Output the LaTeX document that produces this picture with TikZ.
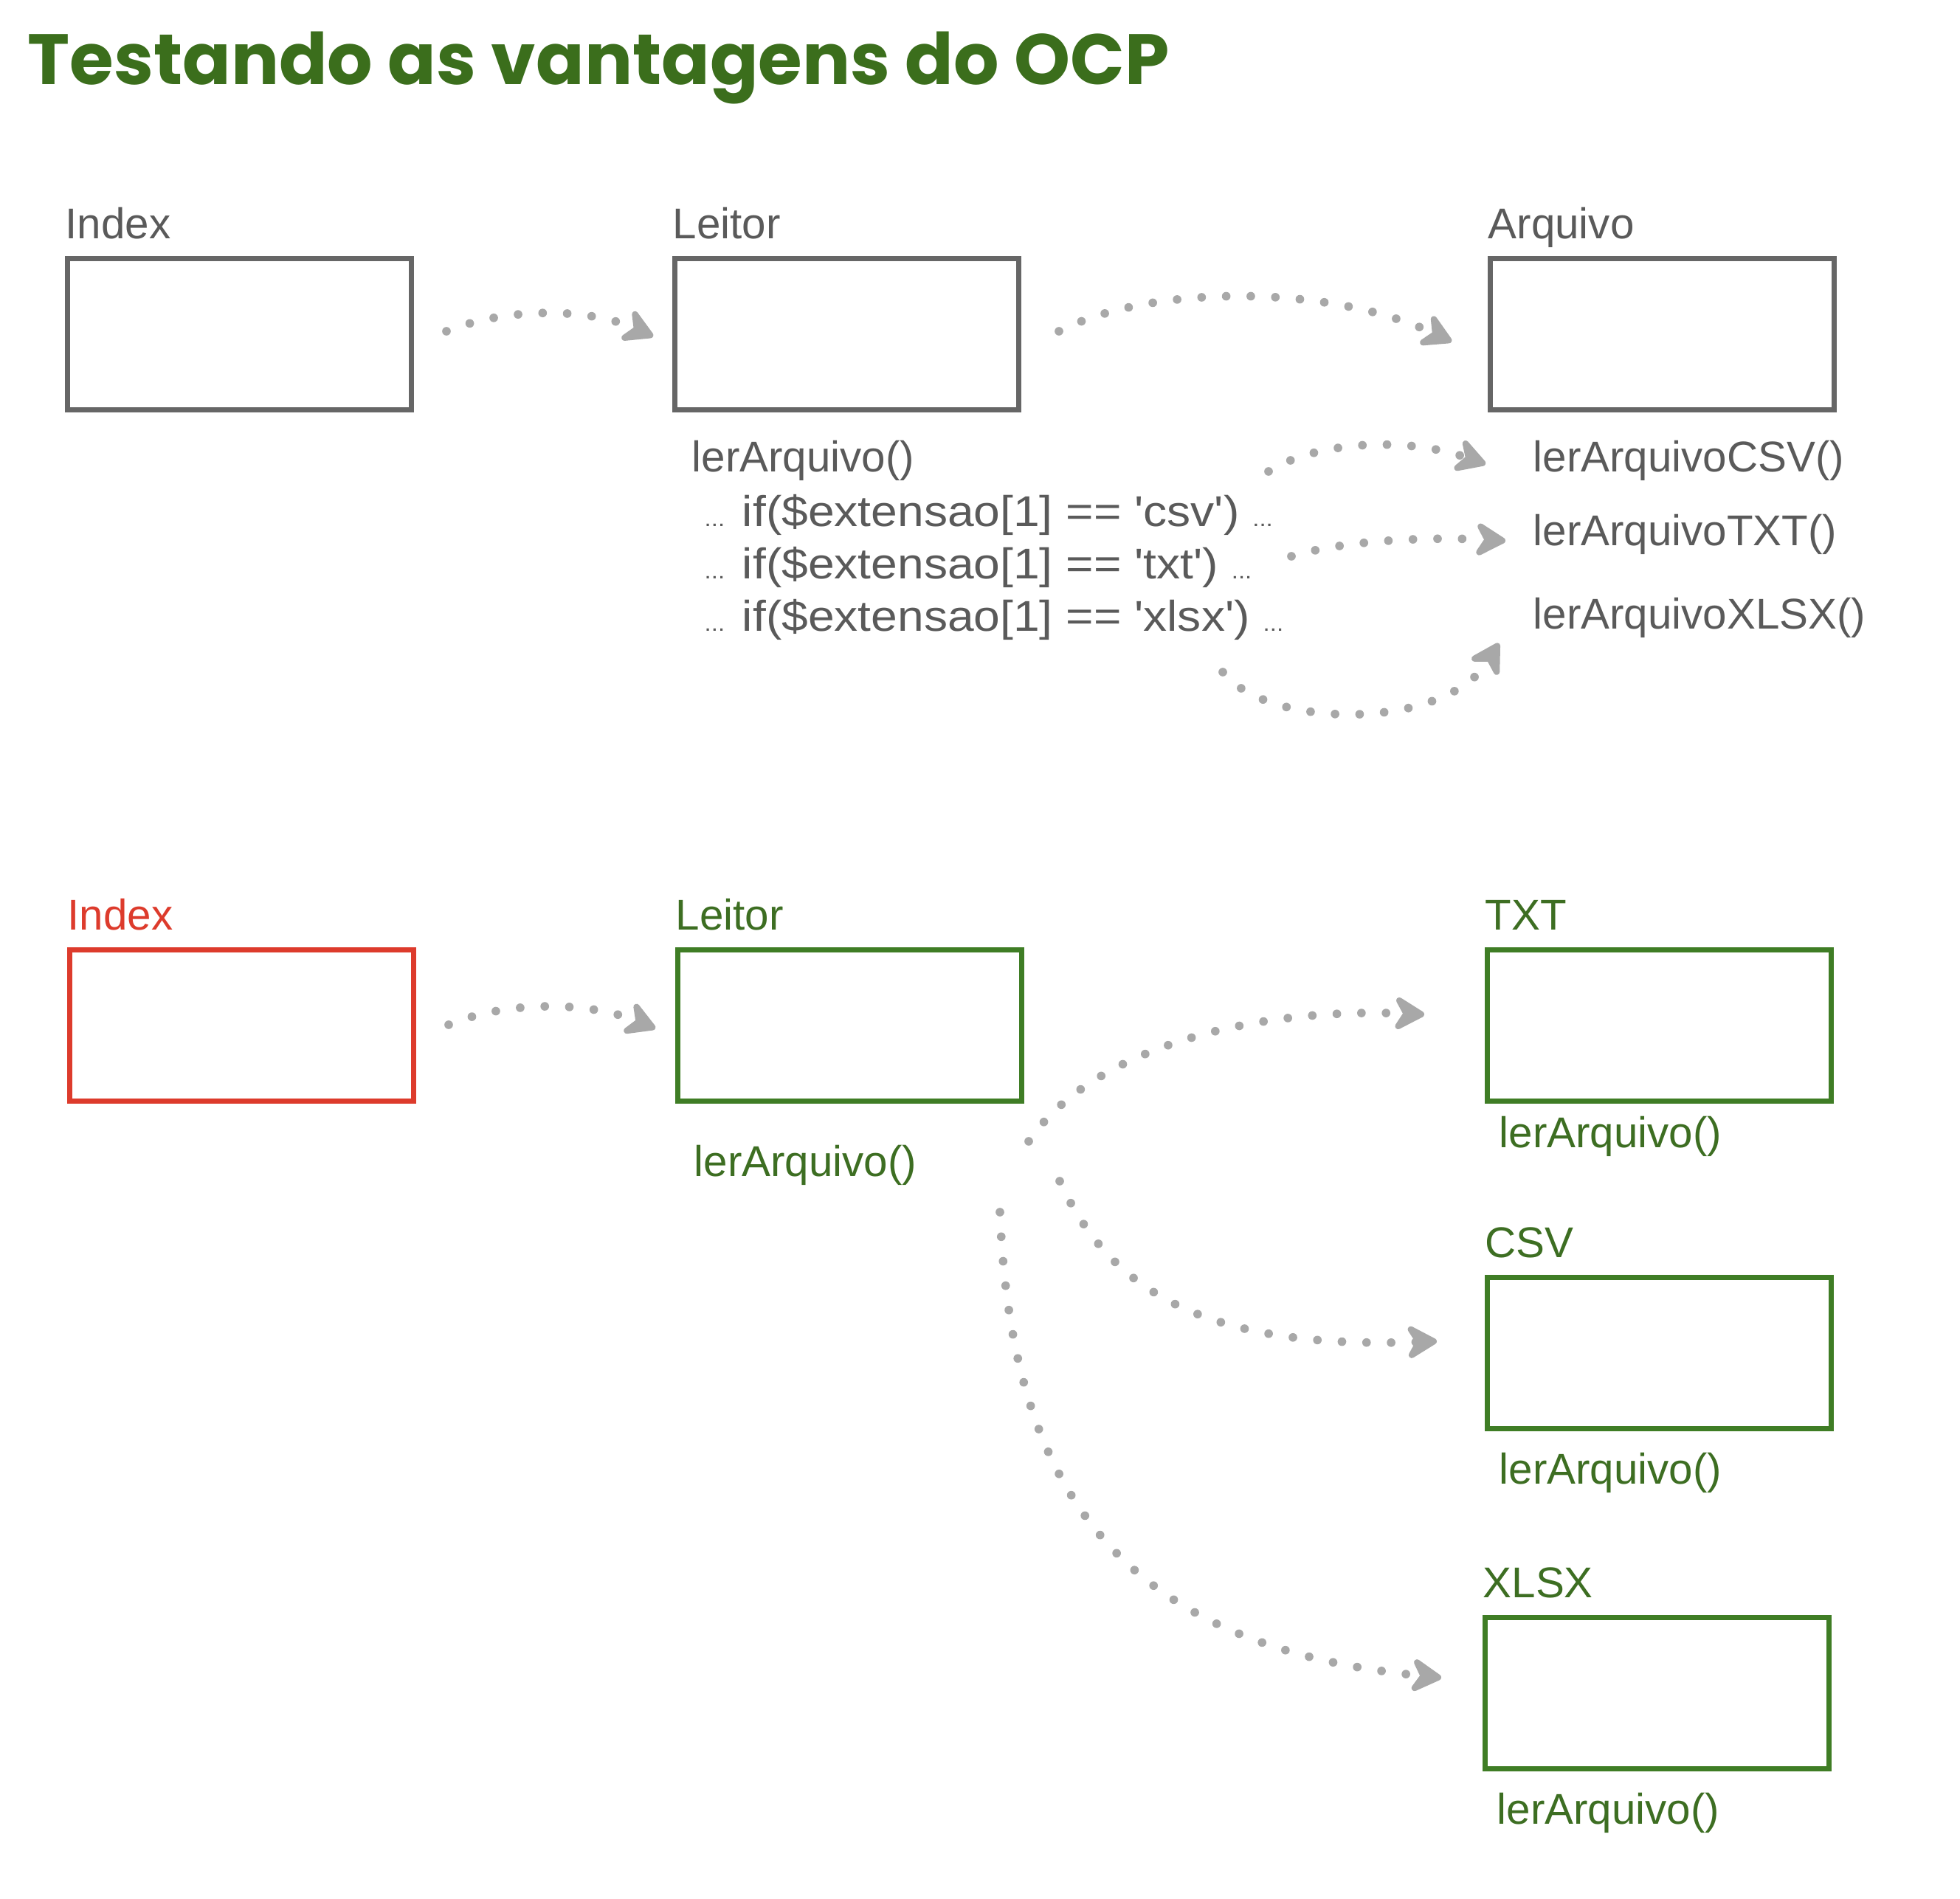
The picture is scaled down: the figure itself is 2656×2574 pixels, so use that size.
\documentclass[tikz,border=0pt]{standalone}
\usepackage{fontspec}
\setmainfont{Liberation Sans}
\newfontfamily\titlefont{Poppins}
\usetikzlibrary{arrows.meta}
\definecolor{boxgrey}{HTML}{666666}
\definecolor{txtgrey}{HTML}{5A5A5A}
\definecolor{dotgrey}{HTML}{A8A8A8}
\definecolor{boxgreen}{HTML}{3F7D25}
\definecolor{txtgreen}{HTML}{3D6E22}
\definecolor{titlegreen}{HTML}{3B6E1C}
\definecolor{ocpred}{HTML}{DD3B2C}
\newcommand{\dd}{{\fontsize{9}{9}\selectfont ...}}
\newcommand{\q}{\textquotesingle}
\newcommand{\codeline}[1]{\scalebox{1.1}[1]{#1}}
\begin{document}
\begin{tikzpicture}[x=0.3pt,y=-0.3pt,
  box/.style={draw=boxgrey, line width=2pt, minimum width=139.8pt, minimum height=61.5pt, inner sep=0pt, anchor=north west},
  gbox/.style={box, draw=boxgreen},
  rbox/.style={box, draw=ocpred},
  lab/.style={font=\fontsize{17.5}{20}\selectfont, text=txtgrey, inner sep=0pt, anchor=base west},
  glab/.style={lab, text=txtgreen},
  rlab/.style={lab, text=ocpred},
  conn/.style={draw=dotgrey, line width=3.5pt, line cap=round, dash pattern=on 0pt off 10pt,
    -{Stealth[length=15pt,width=17pt,inset=5pt,fill=dotgrey,line join=round]}}
]
\fill[white] (0,0) rectangle (2656,2574);
\useasboundingbox (0,0) rectangle (2656,2574);

% title
\node[anchor=base west, inner sep=0pt, text=titlegreen] (title) at (37,115)
  {\resizebox{464pt}{!}{\titlefont\bfseries Testando as vantagens do OCP}};

% ---- top diagram ----
\node[box] (i1) at (88,347) {};
\node[box] (l1) at (911,347) {};
\node[box] (a1) at (2016,347) {};
\node[lab] (i1t) at ([yshift=7pt]i1.north west) {Index};
\node[lab] (l1t) at ([yshift=7pt]l1.north west) {Leitor};
\node[lab] (a1t) at ([yshift=7pt]a1.north west) {Arquivo};

\node[lab] (m1) at (937,640) {lerArquivo()};
\node[lab] (c1) at (954,713) {\codeline{\dd{} if(\$extensao[1] == \q csv\q) \dd}};
\node[lab] (c2) at (954,784) {\codeline{\dd{} if(\$extensao[1] == \q txt\q) \dd}};
\node[lab] (c3) at (954,855) {\codeline{\dd{} if(\$extensao[1] == \q xlsx\q) \dd}};

\node[lab] (r1) at (2077,640) {lerArquivoCSV()};
\node[lab] (r2) at (2077,739) {lerArquivoTXT()};
\node[lab] (r3) at (2077,852) {lerArquivoXLSX()};

\coordinate (p1s) at (605,449);  \coordinate (p1e) at (885,456);
\coordinate (p2s) at (1435,449); \coordinate (p2e) at (1967,463);
\coordinate (p3s) at (1719,639); \coordinate (p3e) at (2013,629);
\coordinate (p4s) at (1750,754); \coordinate (p4e) at (2040,733);
\coordinate (p5s) at (1657,911); \coordinate (p5e) at (2031,872);

\draw[conn] (p1s) .. controls (690,415) and (800,418) .. (p1e);
\draw[conn] (p2s) .. controls (1560,385) and (1800,385) .. (p2e);
\draw[conn] (p3s) .. controls (1780,600) and (1900,590) .. (p3e);
\draw[conn] (p4s) .. controls (1830,730) and (1950,728) .. (p4e);
\draw[conn] (p5s) .. controls (1720,990) and (1960,990) .. (p5e);

% ---- bottom diagram ----
\node[rbox] (i2) at (91,1284) {};
\node[gbox] (l2) at (915,1284) {};
\node[gbox] (t2) at (2012,1284) {};
\node[gbox] (s2) at (2012,1728) {};
\node[gbox] (x2) at (2009,2189) {};
\node[rlab] (i2t) at ([yshift=7pt]i2.north west) {Index};
\node[glab] (l2t) at ([yshift=7pt]l2.north west) {Leitor};
\node[glab] (t2t) at ([yshift=7pt]t2.north west) {TXT};
\node[glab] (s2t) at ([yshift=7pt]s2.north west) {CSV};
\node[glab] (x2t) at ([yshift=7pt]x2.north west) {XLSX};

\node[glab] (m2) at (940,1594) {lerArquivo()};
\node[glab] (t2m) at (2031,1555) {lerArquivo()};
\node[glab] (s2m) at (2031,2011) {lerArquivo()};
\node[glab] (x2m) at (2028,2472) {lerArquivo()};

\coordinate (q1s) at (608,1389);  \coordinate (q1e) at (888,1394);
\coordinate (q2s) at (1394,1547); \coordinate (q2e) at (1930,1375);
\coordinate (q3s) at (1436,1601); \coordinate (q3e) at (1947,1818);
\coordinate (q4s) at (1355,1643); \coordinate (q4e) at (1953,2274);

\draw[conn] (q1s) .. controls (690,1355) and (800,1358) .. (q1e);
\draw[conn] (q2s) .. controls (1480,1420) and (1700,1365) .. (q2e);
\draw[conn] (q3s) .. controls (1500,1740) and (1620,1830) .. (q3e);
\draw[conn] (q4s) .. controls (1370,2000) and (1500,2230) .. (q4e);
\end{tikzpicture}
\end{document}
